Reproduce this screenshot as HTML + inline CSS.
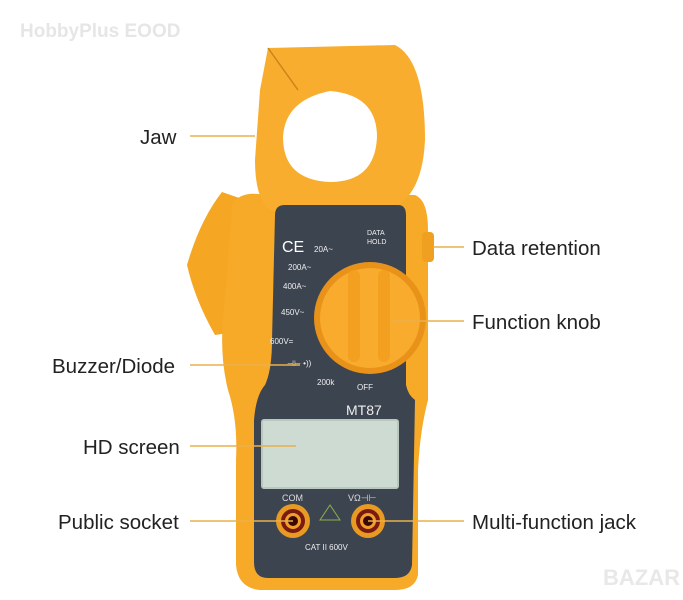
<!DOCTYPE html>
<html><head><style>
body{margin:0;background:#fff;}
svg{display:block}
text{font-family:"Liberation Sans",sans-serif}
</style></head><body>
<svg width="683" height="600" viewBox="0 0 683 600" xmlns="http://www.w3.org/2000/svg">
<text x="20" y="37" font-size="19" font-weight="bold" fill="#e6e6e6">HobbyPlus EOOD</text>
<!-- side wing -->
<path d="M187 265 Q200 220 222 192 L245 200 L248 330 L215 335 Q195 300 187 265 Z" fill="#f5a623"/>
<!-- body -->
<path d="M232 205 Q240 190 265 195 L415 195 Q428 200 428 230 L428 400 Q420 430 418 470 L418 575 Q415 590 395 590 L260 590 Q238 588 236 565 L236 460 Q238 420 228 390 Q218 350 225 300 Z" fill="#f7a928"/>
<rect x="422" y="232" width="12" height="30" rx="4" fill="#f0a020"/>
<!-- jaw -->
<path d="M268 48 L395 45 Q425 60 425 140 Q422 205 380 212 L275 212 Q255 205 255 160 L260 90 Z" fill="#f8ad2e"/>
<line x1="268" y1="48" x2="298" y2="90" stroke="#c9841a" stroke-width="1.5"/>
<path d="M330 91 Q377 95 377 137 Q375 182 330 182 Q283 180 283 137 Q285 100 330 91 Z" fill="#fff"/>
<!-- dark panel -->
<path d="M275 215 Q275 205 285 205 L398 205 Q406 205 406 215 L406 385 Q408 395 415 400 L412 565 Q410 578 395 578 L268 578 Q254 578 254 562 L254 420 Q256 395 265 385 Q272 370 272 340 Z" fill="#3c4450"/>
<text x="282" y="252" font-size="16" fill="#fff">CE</text>
<text x="314" y="252" font-size="8" fill="#eee">20A~</text>
<text x="288" y="270" font-size="8" fill="#eee">200A~</text>
<text x="283" y="289" font-size="8" fill="#eee">400A~</text>
<text x="281" y="315" font-size="8" fill="#eee">450V~</text>
<text x="270" y="344" font-size="8" fill="#eee">600V=</text>
<text x="287" y="366" font-size="8" fill="#eee">⊣⊢ •))</text>
<text x="317" y="385" font-size="8" fill="#eee">200k</text>
<text x="357" y="390" font-size="8" fill="#eee">OFF</text>
<text x="367" y="235" font-size="7" fill="#eee">DATA</text>
<text x="367" y="244" font-size="7" fill="#eee">HOLD</text>
<text x="346" y="415" font-size="14" fill="#eee">MT87</text>
<!-- knob -->
<circle cx="370" cy="318" r="56" fill="#e8921a"/>
<circle cx="370" cy="318" r="50" fill="#f8ab2c"/>
<rect x="348" y="270" width="12" height="92" rx="6" fill="#f3a020"/>
<rect x="378" y="270" width="12" height="92" rx="6" fill="#f3a020"/>
<!-- screen -->
<rect x="261" y="419" width="138" height="70" rx="3" fill="#b8c8be"/>
<rect x="263" y="421" width="134" height="66" fill="#cddbd2"/>
<text x="282" y="501" font-size="9" fill="#ddd">COM</text>
<text x="348" y="501" font-size="9" fill="#ddd">VΩ⊣⊢</text>
<path d="M330 505 L340 520 L320 520 Z" fill="none" stroke="#8ab04a" stroke-width="1"/>
<text x="305" y="550" font-size="8" fill="#eee">CAT II 600V</text>
<!-- sockets -->
<circle cx="293" cy="521" r="17" fill="#e89a22"/><circle cx="293" cy="521" r="12" fill="#7a1a10"/><circle cx="293" cy="521" r="8" fill="#f0a02a"/><circle cx="293" cy="521" r="5" fill="#3a0805"/>
<circle cx="368" cy="521" r="17" fill="#e89a22"/><circle cx="368" cy="521" r="12" fill="#7a1a10"/><circle cx="368" cy="521" r="8" fill="#f0a02a"/><circle cx="368" cy="521" r="5" fill="#3a0805"/>
<!-- leader lines -->
<g stroke="#eab04c" stroke-width="1.5">
<line x1="190" y1="136" x2="255" y2="136"/>
<line x1="433" y1="247" x2="464" y2="247"/>
<line x1="392" y1="321" x2="464" y2="321"/>
<line x1="190" y1="365" x2="300" y2="365"/>
<line x1="190" y1="446" x2="296" y2="446"/>
<line x1="190" y1="521" x2="293" y2="521"/>
<line x1="368" y1="521" x2="464" y2="521"/>
</g>
<g font-size="20.5" fill="#222">
<text x="140" y="144">Jaw</text>
<text x="472" y="255">Data retention</text>
<text x="472" y="329">Function knob</text>
<text x="52" y="373">Buzzer/Diode</text>
<text x="83" y="454">HD screen</text>
<text x="58" y="529">Public socket</text>
<text x="472" y="529">Multi-function jack</text>
</g>
<text x="603" y="585" font-size="22" font-weight="bold" fill="#e8e8e8">BAZAR</text>
</svg>
</body></html>
